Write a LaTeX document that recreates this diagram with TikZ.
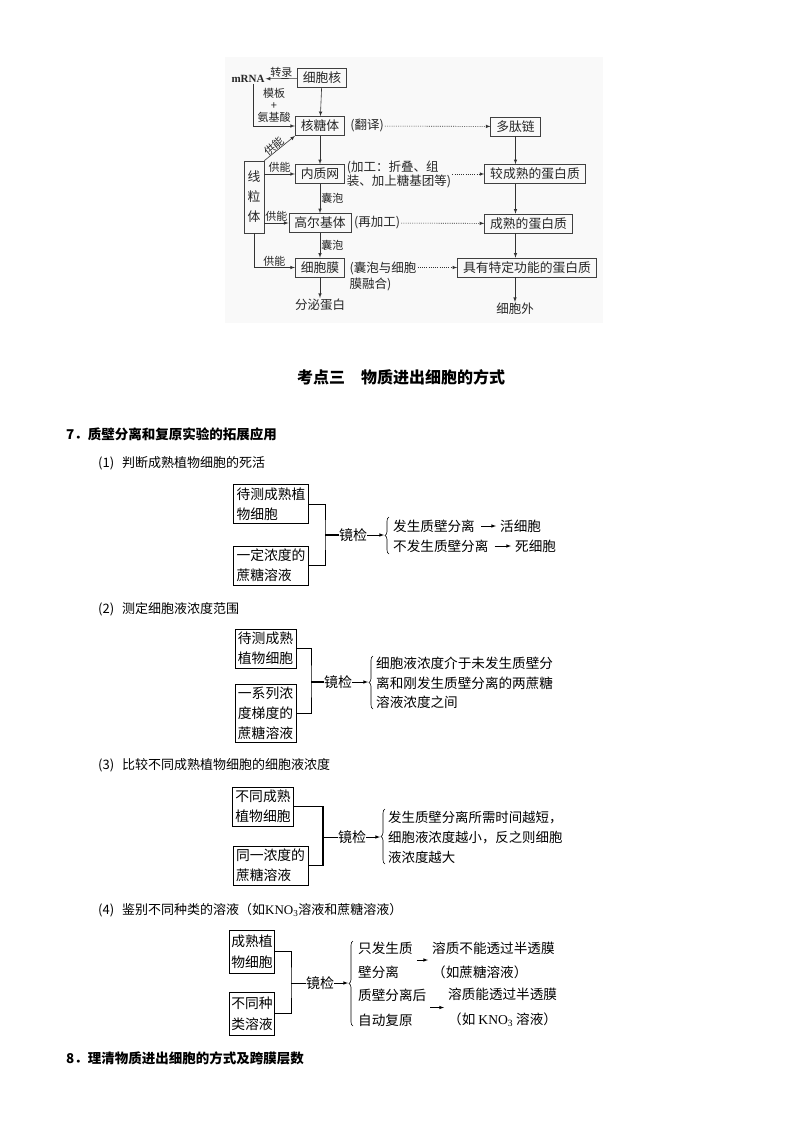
\documentclass[tikz,border=0pt]{standalone}
\usepackage{fontspec}
\setmainfont{Noto Sans CJK SC}
\newfontfamily\latin{Liberation Serif}
\usetikzlibrary{decorations.pathreplacing}

\begin{document}
\begin{tikzpicture}[x=1pt,y=-1pt,
  box/.style={draw=black!75,text=black!85,line width=0.7pt,inner xsep=5.5pt,inner ysep=0pt,minimum height=19pt,font=\fontsize{12.8}{14}\selectfont},
  lbl/.style={inner sep=1pt,text=black!85,font=\fontsize{11}{12}\selectfont},
  note/.style={inner sep=1pt,align=left,text=black!85,font=\fontsize{12.5}{14}\selectfont},
  sbox/.style={draw,line width=0.8pt,align=left,inner xsep=3pt,inner ysep=3pt,font=\fontsize{13.8}{20}\selectfont},
  stext/.style={inner sep=2pt,align=left,anchor=west,font=\fontsize{13.6}{20}\selectfont},
  jian/.style={inner sep=0pt,font=\fontsize{14}{16}\selectfont},
  head/.style={anchor=west,inner sep=0pt,font=\bfseries\fontsize{13.5}{16}\selectfont},
  sub/.style={anchor=west,inner sep=0pt,font=\fontsize{13}{16}\selectfont},
  dots/.style={dash pattern=on 1pt off 1.2pt},
  brc/.style={decorate,decoration={brace,amplitude=4pt},line width=0.6pt}]
\useasboundingbox (0,0) rectangle (800,1132);

% top figure
\fill[gray!5] (225,57) rectangle (603,323);
\node[box] (nuc) at (322,78) {细胞核};
\node[inner sep=1pt,text=black!85,font=\latin\bfseries\fontsize{11}{12}\selectfont] (mrna) at (248,79) {mRNA};
\node[box] (rib) at (320,126) {核糖体};
\node[box] (er) at (320,174) {内质网};
\node[box] (golgi) at (320,223) {高尔基体};
\node[box] (mem) at (320,267.5) {细胞膜};
\node[box,align=center,inner xsep=3.6pt,minimum height=72pt,font=\fontsize{12.8}{20}\selectfont] (mito) at (254,197) {线\\粒\\体};
\node[box] (pep) at (515.5,126.5) {多肽链};
\node[box] (mat1) at (535,174) {较成熟的蛋白质};
\node[box] (mat2) at (528.5,223.5) {成熟的蛋白质};
\node[box] (func) at (527,267.5) {具有特定功能的蛋白质};
\node[note] (transl) at (367,126) {(翻译)};
\node[note] (proc) at (399,174) {(加工：折叠、组\\装、加上糖基团等)};
\node[note] (regolgi) at (377,223) {(再加工)};
\node[note,font=\fontsize{12.5}{16}\selectfont] (fuse) at (383,276) {(囊泡与细胞\\膜融合)};
\node[lbl,align=center] (tmpl) at (274,105) {模板\\+\\氨基酸};
\node[note] (secr) at (320,305) {分泌蛋白};
\node[note] (outside) at (515,309) {细胞外};

\draw[-latex,black!80,line width=0.6pt] (nuc)--(mrna) node[lbl,midway,above] () {转录};
\draw[-latex,black!80,line width=0.6pt] ([xshift=5pt]mrna.south) |- (rib.west);
\draw[-latex,black!80,line width=0.6pt] (nuc)--(rib);
\draw[-latex,black!80,line width=0.6pt] (rib)--(er);
\draw[-latex,black!80,line width=0.6pt] (er)--(golgi) node[lbl,midway,right] () {囊泡};
\draw[-latex,black!80,line width=0.6pt] (golgi)--(mem) node[lbl,midway,right] () {囊泡};
\draw[-latex,black!80,line width=0.6pt] (mem)--(secr);
\draw[-latex,black!80,line width=0.6pt] (mito.north east)--(rib.south west) node[lbl,pos=0.42,above=-0.5pt,sloped,inner sep=0pt] () {供能};
\draw[-latex,black!80,line width=0.6pt] (mito.east |- er.west)--(er.west) node[lbl,midway,above] () {供能};
\draw[-latex,black!80,line width=0.6pt] (mito.east |- golgi.west)--(golgi.west) node[lbl,midway,above] () {供能};
\draw[-latex,black!80,line width=0.6pt] (mito.south) |- (mem.west) node[lbl,pos=0.75,above] () {供能};
\draw[-latex,black!80,line width=0.6pt] (pep)--(pep |- mat1.north);
\draw[-latex,black!80,line width=0.6pt] (pep |- mat1.south)--(pep |- mat2.north);
\draw[-latex,black!80,line width=0.6pt] (pep |- mat2.south)--(pep |- func.north);
\draw[-latex,black!80,line width=0.6pt] (outside |- func.south)--(outside);
\draw[-latex,black!80,line width=0.6pt,dots] (transl)--(pep);
\draw[-latex,black!80,line width=0.6pt,dots] (proc)--(mat1);
\draw[-latex,black!80,line width=0.6pt,dots] (regolgi)--(mat2);
\draw[-latex,black!80,line width=0.6pt,dots] (fuse.east |- func.west)--(func.west);

\node[font=\bfseries\fontsize{16}{18}\selectfont] (kd) at (401,377) {考点三　物质进出细胞的方式};

% section 7
\node[head] (h7) at (66,434) {7．质壁分离和复原实验的拓展应用};

% (1)
\node[sub] (s1) at (98,463) {(1)\hspace{8pt}判断成熟植物细胞的死活};
\node[sbox] (c1) at (271,504) {待测成熟植\\物细胞};
\node[sbox] (d1) at (271,565.5) {一定浓度的\\蔗糖溶液};
\coordinate (j1) at (325,535);
\node[jian] (m1) at (353,535) {镜检};
\coordinate (k1) at (384,535);
\coordinate (k1t) at (389,517);
\coordinate (k1b) at (389,554);
\node[stext] (r1) at (391,526) {发生质壁分离};
\node[stext] (q1) at (498,526) {活细胞};
\node[stext] (r2) at (391,546) {不发生质壁分离};
\node[stext] (q2) at (513,546) {死细胞};
\draw[line width=0.7pt] (c1.east) -| (j1) |- (d1.east);
\draw[line width=1.2pt] (j1)--(m1);
\draw[-latex,line width=0.6pt] (m1)--(k1);
\draw[brc] (k1b)--(k1t);
\draw[-latex,line width=0.6pt,shorten <=4pt,shorten >=2pt] (r1)--(q1);
\draw[-latex,line width=0.6pt,shorten <=4pt,shorten >=2pt] (r2)--(q2);

% (2)
\node[sub] (s2) at (98,609) {(2)\hspace{8pt}测定细胞液浓度范围};
\node[sbox] (c2) at (265.5,648.5) {待测成熟\\植物细胞};
\node[sbox] (d2) at (265.5,713.5) {一系列浓\\度梯度的\\蔗糖溶液};
\coordinate (j2) at (311,682);
\node[jian] (m2) at (338,682) {镜检};
\coordinate (k2) at (368,682);
\coordinate (k2t) at (373,656);
\coordinate (k2b) at (373,709);
\node[stext,font=\fontsize{13.6}{19.5}\selectfont] (r3) at (374,683) {细胞液浓度介于未发生质壁分\\离和刚发生质壁分离的两蔗糖\\溶液浓度之间};
\draw[line width=0.7pt] (c2.east) -| (j2) |- (d2.east);
\draw[line width=1.2pt] (j2)--(m2);
\draw[-latex,line width=0.6pt] (m2)--(k2);
\draw[brc] (k2b)--(k2t);

% (3)
\node[sub] (s3) at (98,765) {(3)\hspace{8pt}比较不同成熟植物细胞的细胞液浓度};
\node[sbox] (c3) at (263,806.5) {不同成熟\\植物细胞};
\node[sbox] (d3) at (270.5,865.5) {同一浓度的\\蔗糖溶液};
\coordinate (j3) at (323,837);
\node[jian] (m3) at (352,837) {镜检};
\coordinate (k3) at (380,837);
\coordinate (k3t) at (385,809);
\coordinate (k3b) at (385,864);
\node[stext,font=\fontsize{13.4}{20}\selectfont] (r4) at (386,837) {发生质壁分离所需时间越短，\\细胞液浓度越小，反之则细胞\\液浓度越大};
\draw[line width=1.1pt] (c3.east) -| (j3) |- (d3.east);
\draw[line width=0.8pt] (j3)--(m3);
\draw[-latex,line width=0.6pt] (m3)--(k3);
\draw[brc] (k3b)--(k3t);

% (4)
\node[sub] (s4) at (98,910) {(4)\hspace{8pt}鉴别不同种类的溶液（如{\latin KNO\textsubscript{3}}溶液和蔗糖溶液）};
\node[sbox,minimum height=43pt,inner xsep=1.5pt,font=\fontsize{13.8}{21}\selectfont] (c4) at (252,951.5) {成熟植\\物细胞};
\node[sbox,minimum height=43pt,inner xsep=1.5pt,font=\fontsize{13.8}{21}\selectfont] (d4) at (252,1013.5) {不同种\\类溶液};
\coordinate (j4) at (291,983);
\node[jian] (m4) at (320,983) {镜检};
\coordinate (k4) at (348,983);
\coordinate (k4t) at (353,941);
\coordinate (k4b) at (353,1026);
\node[stext,font=\fontsize{13.6}{24}\selectfont] (p1) at (356,960) {只发生质\\壁分离};
\node[stext,font=\fontsize{13.6}{25}\selectfont] (p2) at (356,1007.5) {质壁分离后\\自动复原};
\node[stext,font=\fontsize{13.6}{24}\selectfont] (q3) at (430,960) {溶质不能透过半透膜\\（如蔗糖溶液）};
\node[stext,font=\fontsize{13.6}{25}\selectfont] (q4) at (446,1007.5) {溶质能透过半透膜\\（如 {\latin KNO\textsubscript{3}} 溶液）};
\draw[line width=0.7pt] (c4.east) -| (j4) |- (d4.east);
\draw[line width=1.1pt] (c4.east)--(c4.east -| j4);
\draw[line width=0.8pt] (j4)--(m4);
\draw[-latex,line width=0.6pt] (m4)--(k4);
\draw[brc] (k4b)--(k4t);
\draw[-latex,line width=0.6pt,shorten <=2pt,shorten >=2pt] (p1)--(q3);
\draw[-latex,line width=0.6pt,shorten <=2pt,shorten >=2pt] (p2)--(q4);

% section 8
\node[head] (h8) at (66,1058) {8．理清物质进出细胞的方式及跨膜层数};
\end{tikzpicture}
\end{document}
